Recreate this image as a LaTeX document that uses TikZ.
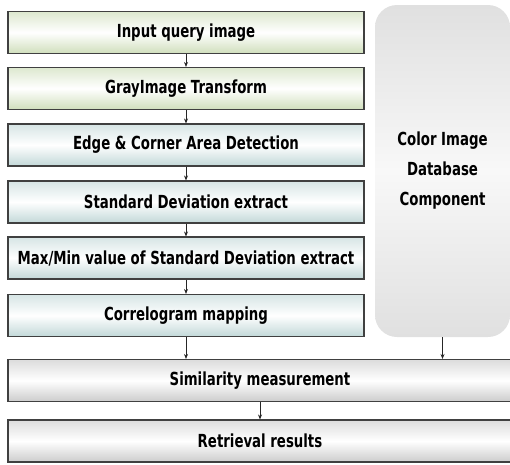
\documentclass[tikz,border=0pt]{standalone}
\usepackage{fontspec}
\setmainfont[FakeStretch=0.74]{DejaVu Sans}
\usetikzlibrary{arrows.meta}
\definecolor{edge}{HTML}{404040}
\definecolor{grtop}{HTML}{DDE8CF}
\definecolor{grbot}{HTML}{D0DFBC}
\definecolor{bltop}{HTML}{D6E5E5}
\definecolor{blbot}{HTML}{C2D8D8}
\definecolor{gytop}{HTML}{DCDCDC}
\definecolor{gybot}{HTML}{CCCCCC}
\definecolor{dbtop}{HTML}{E0E0E0}
\definecolor{dbmid}{HTML}{F8F8F8}
\tikzset{
  lbl/.style={font=\fontsize{18}{30}\selectfont\bfseries, text=black},
  stepbox/.style={lbl, draw=edge, line width=1.1pt, minimum width=356pt, minimum height=42pt, inner sep=0pt},
  greenbox/.style={stepbox, top color=grtop, bottom color=grbot, middle color=white},
  bluebox/.style={stepbox, top color=bltop, bottom color=blbot, middle color=white},
  graybox/.style={stepbox, minimum width=504pt, top color=gytop, bottom color=gybot, middle color=white},
  dbbox/.style={lbl, rounded corners=22pt, minimum width=135pt, minimum height=332pt, top color=dbtop, bottom color=dbtop, middle color=dbmid, align=center},
  conn/.style={-{Stealth[length=5pt,width=4pt]}, line width=0.7pt, draw=black!85}
}
\begin{document}
\begin{tikzpicture}[x=1pt,y=-1pt]
\useasboundingbox (0,0) rectangle (510,464);
\node[greenbox] (b1) at (186,32.5) {Input query image};
\node[greenbox] (b2) at (186,88.5) {GrayImage Transform};
\node[bluebox] (b3) at (186,145) {Edge \& Corner Area Detection};
\node[bluebox] (b4) at (186,202) {Standard Deviation extract};
\node[bluebox] (b5) at (186,258) {Max/Min value of Standard Deviation extract};
\node[bluebox] (b6) at (186,315.5) {Correlogram mapping};
\node[graybox] (sim) at (260,380.5) {Similarity measurement};
\node[graybox] (ret) at (260,441) {Retrieval results};
\node[dbbox] (db) at (442.5,171) {Color Image\\Database\\Component};
\draw[conn] (b1) -- (b2);
\draw[conn] (b2) -- (b3);
\draw[conn] (b3) -- (b4);
\draw[conn] (b4) -- (b5);
\draw[conn] (b5) -- (b6);
\draw[conn] (b6.south) -- (b6.south |- sim.north);
\draw[conn] (db.south) -- (db.south |- sim.north);
\draw[conn] (sim) -- (ret);
\end{tikzpicture}
\end{document}
